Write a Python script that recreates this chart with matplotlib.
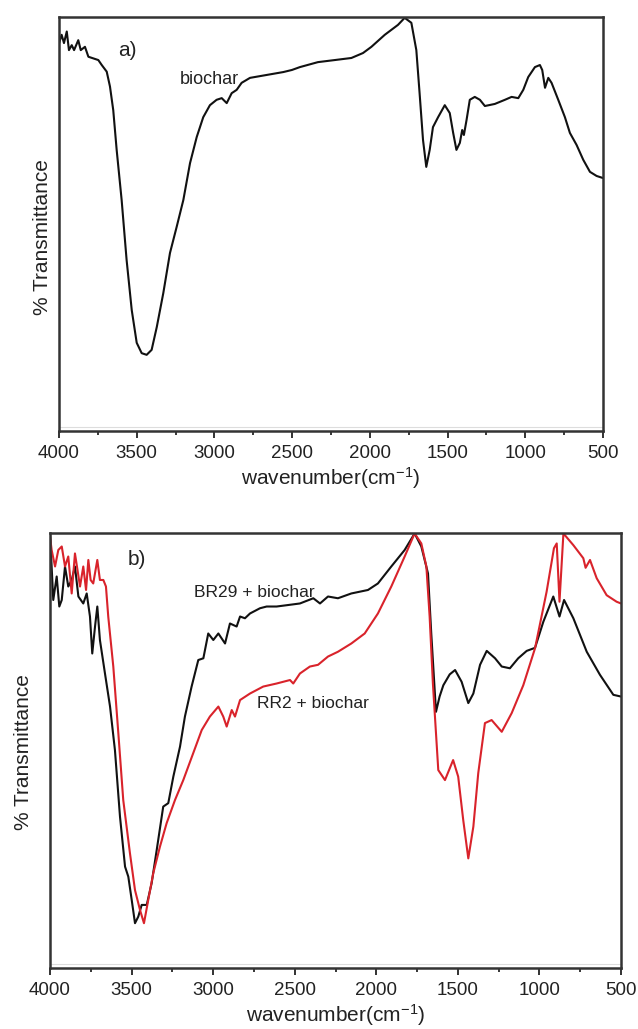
import matplotlib
matplotlib.use("Agg")
import matplotlib.pyplot as plt
from matplotlib.ticker import MultipleLocator

plt.rcParams["font.family"] = ["Liberation Sans", "DejaVu Sans"]
plt.rcParams["mathtext.default"] = "regular"

# ---- (a) biochar spectrum: wavenumber (cm-1) vs % transmittance ----
wn_biochar = [4000, 3983, 3968, 3950, 3936, 3918, 3903, 3876, 3860, 3833, 3811, 3779,
              3747, 3725, 3693, 3672, 3651, 3629, 3597, 3565, 3532, 3500, 3468, 3436,
              3404, 3371, 3329, 3286, 3243, 3200, 3157, 3114, 3072, 3029, 2986, 2953,
              2921, 2889, 2857, 2825, 2771, 2664, 2557, 2502, 2450, 2334, 2226, 2119,
              2044, 1990, 1904, 1819, 1776, 1733, 1701, 1680, 1658, 1637, 1615, 1594,
              1561, 1518, 1486, 1464, 1443, 1421, 1406, 1395, 1378, 1357, 1325, 1292,
              1260, 1196, 1131, 1088, 1045, 1013, 981, 938, 906, 891, 873, 852, 831,
              788, 745, 713, 670, 627, 584, 541, 500]
t_biochar = [93.6, 95.7, 93.7, 96.5, 92.0, 93.2, 92.0, 94.4, 92.0, 92.8, 90.4, 90.0,
             89.6, 88.4, 86.8, 83.2, 77.5, 67.9, 55.8, 41.3, 29.2, 21.3, 18.8, 18.4,
             19.6, 25.1, 33.3, 43.0, 49.3, 55.8, 64.7, 71.0, 75.8, 78.7, 80.0, 80.4,
             79.2, 81.6, 82.4, 84.1, 85.3, 86.0, 86.7, 87.2, 87.9, 89.1, 89.6, 90.1,
             91.3, 92.8, 95.7, 98.1, 99.8, 98.6, 92.0, 81.6, 70.3, 63.8, 67.9, 73.4,
             75.8, 78.7, 76.8, 72.0, 67.9, 69.6, 72.7, 71.5, 75.1, 80.0, 80.7, 80.0,
             78.5, 79.0, 80.0, 80.7, 80.4, 82.4, 85.5, 87.9, 88.4, 87.2, 82.9, 85.3,
             84.1, 80.0, 75.8, 72.0, 69.1, 65.5, 62.6, 61.6, 61.1]

# ---- (b) dye-loaded biochar spectra ----
wn_br29 = [4000, 3990, 3980, 3959, 3943, 3928, 3908, 3888, 3867, 3847, 3826, 3796,
           3775, 3755, 3741, 3724, 3710, 3694, 3663, 3632, 3602, 3571, 3540, 3520,
           3499, 3479, 3459, 3438, 3407, 3377, 3346, 3306, 3275, 3244, 3203, 3173,
           3132, 3091, 3060, 3030, 2999, 2968, 2927, 2897, 2856, 2835, 2805, 2774,
           2713, 2672, 2611, 2549, 2468, 2386, 2345, 2296, 2235, 2153, 2051, 1990,
           1908, 1826, 1765, 1724, 1683, 1663, 1634, 1612, 1589, 1550, 1517, 1477,
           1436, 1405, 1364, 1323, 1272, 1231, 1181, 1130, 1078, 1027, 976, 915,
           877, 849, 792, 710, 629, 547, 500]
t_br29 = [99.9, 92.3, 84.6, 90.0, 83.1, 84.6, 92.3, 87.7, 89.2, 92.3, 85.4, 83.8,
          86.1, 80.8, 72.3, 78.5, 83.1, 75.4, 67.7, 60.1, 50.1, 34.8, 23.3, 21.0,
          15.6, 10.3, 11.8, 14.5, 14.5, 19.5, 27.1, 37.1, 37.9, 44.0, 50.9, 57.8,
          64.7, 70.8, 71.2, 76.9, 75.4, 76.9, 74.6, 79.2, 78.5, 80.8, 80.4, 81.5,
          82.7, 83.1, 83.1, 83.4, 83.8, 85.0, 83.8, 85.4, 85.0, 86.1, 86.9, 88.4,
          92.3, 96.1, 99.9, 96.9, 90.7, 76.9, 58.9, 62.4, 65.0, 67.5, 68.5, 65.8,
          60.9, 63.1, 69.7, 72.9, 71.2, 69.3, 68.9, 71.2, 72.9, 73.6, 79.6, 85.4,
          80.8, 84.6, 80.4, 72.7, 67.4, 62.8, 62.4]

wn_rr2 = [4000, 3990, 3969, 3949, 3928, 3908, 3888, 3867, 3847, 3816, 3796, 3779,
          3765, 3751, 3735, 3710, 3694, 3673, 3657, 3643, 3612, 3581, 3551, 3510,
          3479, 3448, 3424, 3398, 3367, 3326, 3285, 3234, 3183, 3122, 3070, 3020,
          2968, 2938, 2917, 2886, 2866, 2835, 2774, 2693, 2611, 2529, 2509, 2468,
          2407, 2357, 2296, 2235, 2153, 2071, 1990, 1908, 1826, 1765, 1724, 1693,
          1673, 1653, 1620, 1579, 1529, 1498, 1467, 1436, 1405, 1375, 1334, 1293,
          1231, 1170, 1119, 1099, 1027, 956, 911, 894, 877, 853, 792, 731, 717,
          690, 649, 588, 527, 500]
t_rr2 = [99.2, 96.1, 92.3, 96.1, 96.9, 92.3, 94.6, 86.1, 95.3, 87.7, 92.3, 86.9,
         93.8, 89.2, 88.4, 93.8, 89.2, 89.2, 87.7, 80.8, 69.3, 53.9, 38.6, 26.4,
         17.9, 13.3, 10.3, 15.6, 21.8, 27.9, 33.3, 38.6, 43.2, 49.4, 54.7, 57.8,
         60.1, 57.8, 55.5, 59.3, 57.8, 61.6, 63.1, 64.7, 65.4, 66.2, 65.4, 67.7,
         69.3, 69.7, 71.6, 72.7, 74.6, 76.9, 81.5, 87.7, 94.6, 99.9, 97.6, 92.3,
         80.8, 65.4, 45.5, 43.2, 47.8, 44.0, 34.0, 25.2, 32.5, 44.8, 56.3, 57.0,
         54.3, 58.6, 63.2, 65.0, 73.5, 86.5, 96.5, 97.6, 84.2, 99.9, 97.2, 94.2,
         92.0, 93.8, 89.6, 85.7, 84.2, 83.8]

xticks = [4000, 3500, 3000, 2500, 2000, 1500, 1000, 500]
xtick_labels = ["4000", "3500", "3000", "2500", "2000", "1500", "1000", "500"]

W, H = 638, 1029
fig = plt.figure(figsize=(W / 100, H / 100), dpi=100)

ax_a = fig.add_axes([59 / W, 1 - 431 / H, (603 - 59) / W, (431 - 17) / H])
ax_b = fig.add_axes([50 / W, 1 - 968 / H, (621 - 50) / W, (968 - 533) / H])

axis_color = "#333333"
text_color = "#222222"


def style(ax, ylabel_xy):
    ax.set_xlim(4000, 500)
    ax.set_ylim(0, 100)
    ax.set_xticks(xticks)
    ax.set_xticklabels(xtick_labels)
    ax.xaxis.set_minor_locator(MultipleLocator(250))
    ax.set_yticks([])
    ax.tick_params(axis="x", which="major", direction="out", length=5, width=1.3,
                   pad=5, labelsize=13.5, colors=text_color)
    ax.tick_params(axis="x", which="minor", direction="out", length=3, width=1.1)
    for s in ax.spines.values():
        s.set_linewidth(1.8)
        s.set_color(axis_color)
    ax.axhline(1.0, color="#dddddd", lw=0.8, zorder=0)
    ax.set_xlabel("wavenumber(cm$^{-1}$)", fontsize=15, color=text_color, labelpad=2)
    ax.set_ylabel("% Transmittance", fontsize=15, color=text_color)
    ax.yaxis.set_label_coords(*ylabel_xy)


line_kw = dict(lw=1.5, solid_joinstyle="round", solid_capstyle="round")

# panel (a)
ax_a.plot(wn_biochar, t_biochar, color="#111111", **line_kw)
style(ax_a, (-0.013, 0.469))
ax_a.text(3620, 92.0, "a)", fontsize=15, color=text_color, va="center")
ax_a.text(3221, 84.8, "biochar", fontsize=13, color=text_color, va="center")

# panel (b)
ax_b.plot(wn_br29, t_br29, color="#111111", **line_kw)
ax_b.plot(wn_rr2, t_rr2, color="#d9232b", **line_kw)
style(ax_b, (-0.030, 0.497))
ax_b.text(3522, 93.8, "b)", fontsize=15, color=text_color, va="center")
ax_b.text(3120, 86.4, "BR29 + biochar", fontsize=12.5, color=text_color, va="center")
ax_b.text(2730, 60.8, "RR2 + biochar", fontsize=12.5, color=text_color, va="center")

fig.savefig("out.png", dpi=100, facecolor="white")
